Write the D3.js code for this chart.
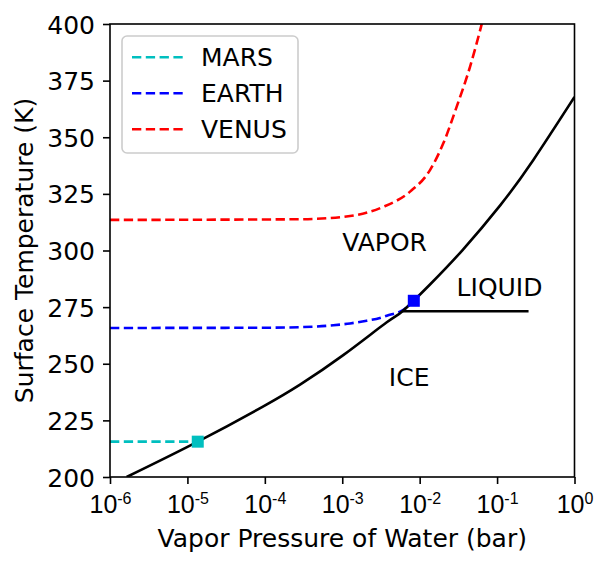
<!DOCTYPE html>
<html>
<head>
<meta charset="utf-8">
<script src="https://cdn.jsdelivr.net/npm/d3@7"></script>
<style>
  html, body { margin: 0; padding: 0; background: #fff; }
  svg { display: block; font-family: "DejaVu Sans", sans-serif; }
</style>
</head>
<body>
<svg id="chart" width="611" height="566"></svg>
<script>
// ---- data ----
// Ice/vapor + liquid/vapor phase boundary (pressure in bar, temperature in K)
const boundaryP = [1.64e-6, 1.36e-5, 9.57e-5, 2.85e-4, 1.03e-3, 3.76e-3, 6.0e-3, 1.36e-2, 3.56e-2, 0.109, 0.294, 1.0];
const boundaryT = [200.0, 215.6, 231.2, 240.8, 253.8, 268.3, 273.2, 285.0, 300.1, 319.8, 340.0, 367.8];
// Ice/liquid line
const liquidP = [0.006, 0.255];
const liquidT = [273.15, 273.15];
// Planet tracks
const marsP = [1e-6, 1.36e-5];
const marsT = [215.6, 215.6];
const earthP = [1e-6, 1e-4, 3.16e-4, 7.67e-4, 1.26e-3, 2.07e-3, 3.07e-3, 3.76e-3, 6.0e-3, 8.4e-3];
const earthT = [265.8, 265.9, 266.2, 267.0, 267.8, 269.0, 270.2, 271.2, 273.6, 277.8];
const venusP = [1e-6, 2.85e-4, 1.26e-3, 3.4e-3, 7.52e-3, 1.36e-2, 2.02e-2, 3.01e-2, 4.48e-2, 6.34e-2];
const venusT = [313.5, 313.8, 315.2, 319.3, 326.0, 335.5, 347.3, 363.5, 381.2, 400.0];
// Markers (current planet state)
const markerNames = ["MARS", "EARTH"];
const markerP = [1.36e-5, 8.4e-3];
const markerT = [215.6, 277.8];
// Legend
const seriesNames = ["MARS", "EARTH", "VENUS"];
const seriesColors = ["#00bfbf", "#0000ff", "#ff0000"];
// Region labels
const regionNames = ["VAPOR", "LIQUID", "ICE"];
const regionP = [1e-3, 0.03, 0.004];
const regionT = [300, 280, 240];
// Axes
const xTickExp = [-6, -5, -4, -3, -2, -1, 0];
const yTicks = [200, 225, 250, 275, 300, 325, 350, 375, 400];
const xLabel = "Vapor Pressure of Water (bar)";
const yLabel = "Surface Temperature (K)";

// ---- layout ----
const L = 110, R = 574.5, T = 24, B = 477;
const FS = 25;
const svg = d3.select("#chart");

const x = d3.scaleLog().domain([1e-6, 1]).range([L, R]);
const y = d3.scaleLinear().domain([200, 400]).range([B, T]);

svg.append("defs").append("clipPath").attr("id", "plotclip")
  .append("rect").attr("x", L).attr("y", T).attr("width", R - L).attr("height", B - T);

const plot = svg.append("g").attr("clip-path", "url(#plotclip)");

const line = d3.line().x(d => x(d[0])).y(d => y(d[1])).curve(d3.curveMonotoneX);
const smooth = d3.line().x(d => x(d[0])).y(d => y(d[1])).curve(d3.curveNatural);
const zip = (a, b) => a.map((v, i) => [v, b[i]]);

const dash = "9.3,4.5";
const LW = 2.6;

// planet tracks
plot.append("path").attr("d", line(zip(marsP, marsT)))
  .attr("fill", "none").attr("stroke", seriesColors[0]).attr("stroke-width", LW).attr("stroke-dasharray", dash);
plot.append("path").attr("d", line(zip(earthP, earthT)))
  .attr("fill", "none").attr("stroke", seriesColors[1]).attr("stroke-width", LW).attr("stroke-dasharray", dash);
plot.append("path").attr("d", line(zip(venusP, venusT)))
  .attr("fill", "none").attr("stroke", seriesColors[2]).attr("stroke-width", LW).attr("stroke-dasharray", dash);

// phase boundaries
plot.append("path").attr("d", smooth(zip(boundaryP, boundaryT)))
  .attr("fill", "none").attr("stroke", "#000").attr("stroke-width", LW);
plot.append("path").attr("d", d3.line().x(d => x(d[0])).y(d => y(d[1]))(zip(liquidP, liquidT)))
  .attr("fill", "none").attr("stroke", "#000").attr("stroke-width", LW);

// markers
const MS = 12;
plot.selectAll("rect.marker").data(markerP).enter().append("rect")
  .attr("class", "marker")
  .attr("x", (d, i) => x(d) - MS / 2)
  .attr("y", (d, i) => y(markerT[i]) - MS / 2)
  .attr("width", MS).attr("height", MS)
  .attr("fill", (d, i) => seriesColors[seriesNames.indexOf(markerNames[i])]);

// region labels
svg.selectAll("text.region").data(regionNames).enter().append("text")
  .attr("class", "region")
  .attr("x", (d, i) => x(regionP[i]))
  .attr("y", (d, i) => y(regionT[i]))
  .attr("font-size", FS).attr("fill", "#000")
  .text(d => d);

// ---- axes ----
const axisColor = "#000";
const xAxis = d3.axisBottom(x).tickValues(xTickExp.map(e => Math.pow(10, e))).tickSize(7).tickFormat(() => "");
const gx = svg.append("g").attr("transform", `translate(0,${B})`).call(xAxis);
gx.select(".domain").remove();
gx.selectAll(".tick line").attr("stroke", axisColor).attr("stroke-width", 1.6);
gx.selectAll(".tick").each(function (d, i) {
  const t = d3.select(this).select("text")
    .attr("y", null).attr("dy", null)
    .attr("transform", "translate(0,36)")
    .attr("font-size", FS).attr("fill", "#000")
    .attr("text-anchor", "middle");
  t.text(null);
  t.append("tspan").text("10");
  t.append("tspan").attr("font-size", 16).attr("dy", -9).text(String(xTickExp[i]));
});

const yAxis = d3.axisLeft(y).tickValues(yTicks).tickSize(7).tickFormat(d3.format("d"));
const gy = svg.append("g").attr("transform", `translate(${L},0)`).call(yAxis);
gy.select(".domain").remove();
gy.selectAll(".tick line").attr("stroke", axisColor).attr("stroke-width", 1.6);
gy.selectAll(".tick text").attr("x", -15).attr("dy", "0.36em")
  .attr("font-size", FS).attr("fill", "#000").attr("font-family", "DejaVu Sans");

// frame (spines)
svg.append("rect").attr("x", L).attr("y", T).attr("width", R - L).attr("height", B - T)
  .attr("fill", "none").attr("stroke", axisColor).attr("stroke-width", 1.6);

// axis titles
svg.append("text").attr("x", (L + R) / 2).attr("y", 546.5)
  .attr("text-anchor", "middle").attr("font-size", FS).attr("fill", "#000").text(xLabel);
svg.append("text").attr("transform", `translate(33,${(T + B) / 2}) rotate(-90)`)
  .attr("text-anchor", "middle").attr("font-size", FS).attr("fill", "#000").text(yLabel);

// ---- legend ----
const lg = svg.append("g");
lg.append("rect").attr("x", 122).attr("y", 36).attr("width", 176).attr("height", 117)
  .attr("rx", 5).attr("ry", 5)
  .attr("fill", "#fff").attr("fill-opacity", 0.8)
  .attr("stroke", "#cccccc").attr("stroke-width", 1.6);
seriesNames.forEach((name, i) => {
  const cy = 57.3 + i * 36;
  lg.append("line").attr("x1", 132).attr("x2", 183).attr("y1", cy).attr("y2", cy)
    .attr("stroke", seriesColors[i]).attr("stroke-width", LW).attr("stroke-dasharray", dash);
  lg.append("text").attr("x", 201).attr("y", cy + 8.5)
    .attr("font-size", FS).attr("fill", "#000").text(name);
});
</script>
</body>
</html>
